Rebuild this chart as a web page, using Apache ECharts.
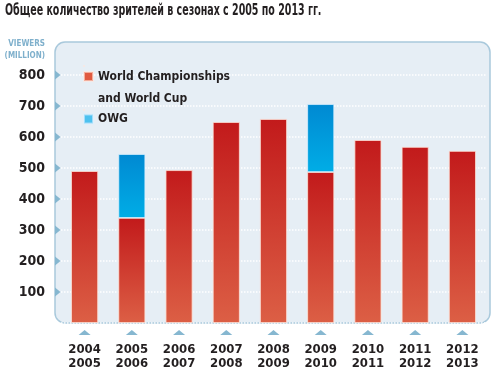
<!DOCTYPE html>
<html><head><meta charset="utf-8">
<script src="https://cdn.jsdelivr.net/npm/echarts@6/dist/echarts.min.js"></script>
<style>html,body{margin:0;padding:0;background:#fff}#c{width:500px;height:379px}</style>
</head><body><div id="c"></div>
<script>
const titleText = 'Общее количество зрителей в сезонах с 2005 по 2013 гг.';
const categories = ['2004\n2005','2005\n2006','2006\n2007','2007\n2008','2008\n2009','2009\n2010','2010\n2011','2011\n2012','2012\n2013'];
const wcValues = [490, 339, 493, 648, 658, 487, 590, 568, 555];
const owgValues = [null, 206, null, null, null, 219, null, null, null];
const yTicks = [100, 200, 300, 400, 500, 600, 700, 800];
const wcName = 'World Championships\nand World Cup';
const owgName = 'OWG';

const FONT = '"Liberation Sans Narrow","DejaVu Sans Condensed",sans-serif';
const chart = echarts.init(document.getElementById('c'), null, {renderer:'canvas'});
const redGrad = new echarts.graphic.LinearGradient(0,0,0,1,[{offset:0,color:'#c21a1b'},{offset:1,color:'#dc5f45'}]);
const blueGrad = new echarts.graphic.LinearGradient(0,0,0,1,[{offset:0,color:'#0089d2'},{offset:1,color:'#00ade6'}]);

chart.setOption({
  animation:false,
  grid:{left:61,right:14,top:75,bottom:56,containLabel:false,outerBoundsMode:'none'},
  legend:[
    {data:[{name:wcName,icon:'path://M0,0h0.01v0.01h-0.01z M0,6h9v9h-9z M0,44h0.01v0.01h-0.01z',itemStyle:{color:'#e05a40'}}],
     left:78,top:60,itemWidth:9,itemHeight:44,itemGap:5,
     textStyle:{fontFamily:FONT,fontSize:12,color:'#231f20',lineHeight:22,fontWeight:'bold'}},
    {data:[{name:owgName,icon:'rect',itemStyle:{color:'#4dc1ef'}}],
     left:78,top:108,itemWidth:9,itemHeight:9,
     textStyle:{fontFamily:FONT,fontSize:12,color:'#231f20',fontWeight:'bold'}}
  ],
  xAxis:{type:'category',data:categories,
    axisLine:{show:false},axisTick:{show:false},
    axisLabel:{margin:20,fontFamily:FONT,fontSize:13,lineHeight:14,color:'#231f20',interval:0,fontWeight:'bold'}},
  yAxis:{type:'value',min:0,max:800,interval:100,
    name:'VIEWERS\n(MILLION)',nameLocation:'end',nameGap:13,
    nameTextStyle:{fontFamily:FONT,fontWeight:'bold',fontSize:8,color:'#7fb0cc',align:'right',padding:[0,16,0,0],lineHeight:12},
    axisLine:{show:false},axisTick:{show:false},
    axisLabel:{showMinLabel:false,margin:16,fontFamily:FONT,fontSize:14,color:'#231f20',fontWeight:'bold'},
    splitLine:{lineStyle:{color:'#ffffff',type:'dotted',width:1.5}}},
  series:[
    {name:wcName,type:'bar',stack:'t',data:wcValues,barWidth:27,itemStyle:{color:redGrad,borderColor:'rgba(255,230,220,0.6)',borderWidth:0.8}},
    {name:owgName,type:'bar',stack:'t',data:owgValues,barWidth:27,itemStyle:{color:blueGrad,borderColor:'rgba(220,240,255,0.6)',borderWidth:0.8}}
  ]
});

const g = [
  {type:'rect',z:-10,shape:{x:55,y:42,width:435,height:281,r:10},style:{fill:'#e6eef5',stroke:'#a9c9dc',lineWidth:1.5}},
  {type:'text',left:5,top:3,scaleX:0.66,style:{text:titleText,font:'bold 16px "DejaVu Sans Condensed", sans-serif',fill:'#231f20'}}
];
yTicks.forEach(v=>{
  const y = chart.convertToPixel({yAxisIndex:0}, v);
  g.push({type:'polygon',shape:{points:[[55,y-4.5],[60.5,y],[55,y+4.5]]},style:{fill:'#86b7d0'}});
});
categories.forEach((c,i)=>{
  const x = chart.convertToPixel({xAxisIndex:0}, i);
  const y0 = chart.convertToPixel({yAxisIndex:0}, 0);
  g.push({type:'polygon',shape:{points:[[x-6,y0+12],[x,y0+7],[x+6,y0+12]]},style:{fill:'#86b7d0'}});
});
chart.setOption({graphic:g});
</script></body></html>
